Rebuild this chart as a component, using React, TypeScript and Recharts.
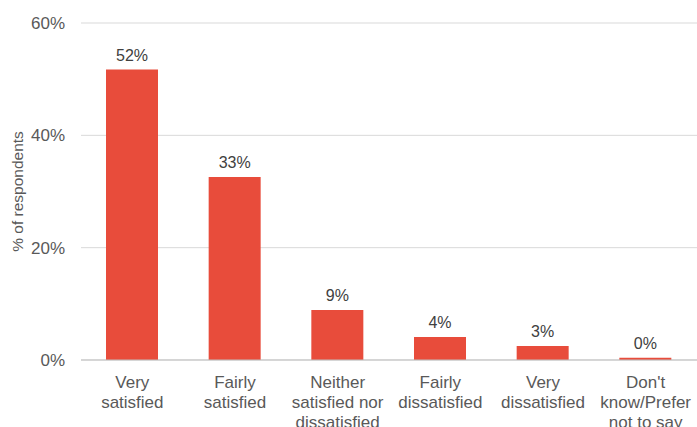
import React from 'react';
import { BarChart, Bar, XAxis, YAxis, CartesianGrid, LabelList } from 'recharts';

const categories = [
  'Very\nsatisfied',
  'Fairly\nsatisfied',
  'Neither\nsatisfied nor\ndissatisfied',
  'Fairly\ndissatisfied',
  'Very\ndissatisfied',
  "Don't\nknow/Prefer\nnot to say",
];
const shares = [51.7, 32.6, 8.9, 4.1, 2.5, 0.4];
const yTicks = [0, 20, 40, 60];

const data = categories.map((name, i) => ({ name, value: shares[i] }));

const FONT = 'Arial, "Liberation Sans", sans-serif';

const CategoryTick = (props: any) => {
  const { x, y, payload } = props;
  const lines = String(payload.value).split('\n');
  return (
    <text x={x} y={y} textAnchor="middle" fill="#595959" fontSize={17} fontFamily={FONT}>
      {lines.map((line, i) => (
        <tspan key={i} x={x} dy={i === 0 ? 20 : 20}>{line}</tspan>
      ))}
    </text>
  );
};

const AxisTitle = (props: any) => {
  const { viewBox } = props;
  const cy = viewBox.y + viewBox.height / 2;
  const cx = 17;
  return (
    <text
      x={cx}
      y={cy}
      transform={`rotate(-90, ${cx}, ${cy})`}
      textAnchor="middle"
      dominantBaseline="central"
      fill="#595959"
      fontSize={15.5}
      fontFamily={FONT}
    >
      % of respondents
    </text>
  );
};

const App: React.FC = () => {
  return (
    <div style={{ position: 'absolute', left: 0, top: 0, background: '#fff' }}>
      <BarChart
        width={697}
        height={427}
        data={data}
        margin={{ top: 23, right: 0, left: 0, bottom: 0 }}
        barSize={52}
      >
        <CartesianGrid vertical={false} stroke="#d9d9d9" />
        <XAxis
          dataKey="name"
          height={67}
          axisLine={{ stroke: '#bfbfbf' }}
          tickLine={false}
          interval={0}
          tick={<CategoryTick />}
        />
        <YAxis
          width={81}
          domain={[0, 60]}
          ticks={yTicks}
          axisLine={false}
          tickLine={false}
          tickMargin={10}
          tickFormatter={(v: number) => `${v}%`}
          tick={{ fill: '#595959', fontSize: 17, fontFamily: FONT }}
          label={<AxisTitle />}
        />
        <Bar dataKey="value" fill="#e84c3b" isAnimationActive={false}>
          <LabelList
            dataKey="value"
            position="top"
            offset={9}
            formatter={(v: any) => `${Math.round(Number(v))}%`}
            style={{ fill: '#404040', fontSize: 16, fontFamily: FONT }}
          />
        </Bar>
      </BarChart>
    </div>
  );
};

export default App;
